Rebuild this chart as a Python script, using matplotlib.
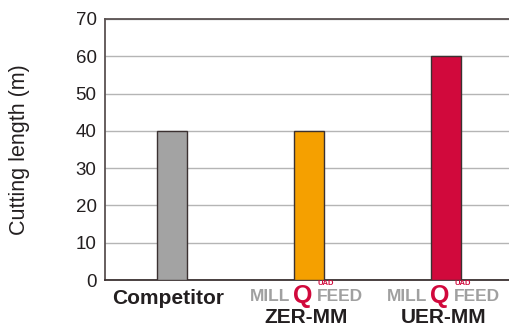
import matplotlib

matplotlib.use("Agg")
import matplotlib.pyplot as plt

categories = ["Competitor", "ZER-MM", "UER-MM"]
lengths = [40, 40, 60]
colors = ["#a3a3a3", "#f5a000", "#d1093c"]
yticks = [0, 10, 20, 30, 40, 50, 60, 70]

plt.rcParams["font.family"] = ["Liberation Sans", "DejaVu Sans"]

fig = plt.figure(figsize=(5.09, 3.27), dpi=100)
ax = fig.add_axes([0.2063, 0.1437, 0.7937, 0.7983])

x = list(range(len(categories)))
ax.bar(x, lengths, width=0.22, color=colors, edgecolor="#3b3131", linewidth=1.0, zorder=3)

ax.set_xlim(-0.49, 2.46)
ax.set_ylim(0, 70)
ax.set_yticks(yticks)
ax.set_yticklabels([str(v) for v in yticks], fontsize=13.5, color="#231f20")
ax.tick_params(axis="y", length=0, pad=6)
ax.tick_params(axis="x", length=0)
ax.set_xticks([])
ax.grid(axis="y", color="#b5b5b5", linewidth=1.0, zorder=0)

ax.spines["right"].set_visible(False)
ax.spines["top"].set_color("#5a5252")
ax.spines["top"].set_linewidth(1.3)
ax.spines["left"].set_color("#5a5252")
ax.spines["left"].set_linewidth(1.3)
ax.spines["bottom"].set_color("#3b3131")
ax.spines["bottom"].set_linewidth(1.3)

ax.set_ylabel("Cutting length (m)", fontsize=15.5, color="#231f20")
ax.yaxis.set_label_coords(-0.185, 0.5)

# category labels under the bars
trans = ax.get_xaxis_transform()
ax.text(x[0] - 0.03, -0.069, categories[0], transform=trans, ha="center", va="center",
        fontsize=15, fontweight="bold", color="#231f20")
for xi, name in zip(x[1:], categories[1:]):
    ax.text(xi - 0.02, -0.142, name, transform=trans, ha="center", va="center",
            fontsize=15, fontweight="bold", color="#231f20")
    # MILLQUADFEED brand mark
    ax.text(xi - 0.135, -0.063, "MILL", transform=trans, ha="right", va="center",
            fontsize=12.5, fontweight="bold", color="#a0a0a0")
    ax.text(xi - 0.044, -0.06, "Q", transform=trans, ha="center", va="center",
            fontsize=18, fontweight="bold", color="#d1093c")
    ax.text(xi + 0.055, -0.063, "FEED", transform=trans, ha="left", va="center",
            fontsize=12.5, fontweight="bold", color="#a0a0a0")
    ax.text(xi + 0.06, -0.014, "UAD", transform=trans, ha="left", va="center",
            fontsize=5.5, fontweight="bold", color="#d1093c")

fig.savefig("out.png", dpi=100)
